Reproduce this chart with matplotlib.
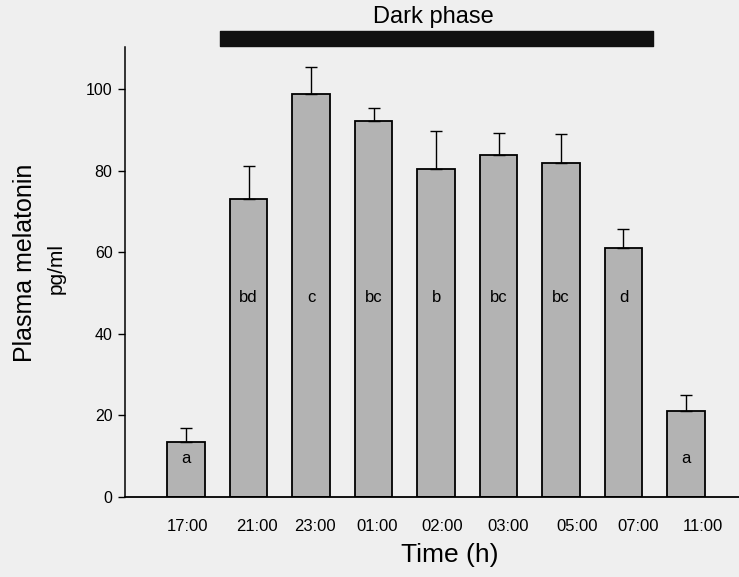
import numpy as np
import matplotlib.pyplot as plt

plt.rcParams['font.family'] = ['Liberation Sans', 'DejaVu Sans']

# Plasma melatonin by time of day
times = ['17:00', '21:00', '23:00', '01:00', '02:00', '03:00', '05:00', '07:00', '11:00']
melatonin = [13.5, 73.0, 98.8, 92.2, 80.4, 83.8, 81.9, 61.0, 21.1]
sem = [3.4, 8.1, 6.6, 3.1, 9.3, 5.4, 7.1, 4.7, 3.9]
groups = ['a', 'bd', 'c', 'bc', 'b', 'bc', 'bc', 'd', 'a']

x = np.arange(len(times))
# tick labels in the scan sit a little right of the bar centres (pixels)
label_shift = np.array([1, 8, 4, 4, 6, 10, 16, 15, 17]) / 62.5

fig = plt.figure(figsize=(7.39, 5.77), dpi=100, facecolor='#efefef')
ax = fig.add_axes([125 / 739, 1 - 497 / 577, 1 - 125 / 739, (497 - 47) / 577])
ax.set_facecolor('#efefef')

ax.bar(x, melatonin, width=0.6, color='#b3b3b3', edgecolor='black', linewidth=1.3, zorder=2)
ax.errorbar(x, melatonin, yerr=[np.zeros(len(x)), sem], fmt='none', ecolor='black',
            elinewidth=1.0, capsize=4.5, capthick=1.0, zorder=3)

# group letters inside the bars
for xi, val, g in zip(x, melatonin, groups):
    ypos = 48.8 if val > 40 else 9.5
    ax.text(xi, ypos, g, ha='center', va='center', fontsize=12, zorder=4)

ax.set_xlim(-0.98, 8.85)
ax.set_ylim(0, 110.3)
ax.set_yticks([0, 20, 40, 60, 80, 100])
ax.set_xticks(x + label_shift)
ax.set_xticklabels(times, fontsize=12)
ax.tick_params(axis='x', length=0, pad=16)
ax.tick_params(axis='y', direction='out', length=5, width=1, labelsize=11.5, pad=4)

for side in ['top', 'right']:
    ax.spines[side].set_visible(False)
ax.spines['left'].set_linewidth(1.1)
ax.spines['bottom'].set_linewidth(1.3)

# dark phase bar above the plot
ax.fill_between([0.54, 7.47], 110.5, 114.3, color='#111111', clip_on=False, zorder=5)
ax.text(3.95, 117.6, 'Dark phase', ha='center', va='center', fontsize=17, clip_on=False)

fig.text(25 / 739, 1 - 263 / 577, 'Plasma melatonin', rotation=90, ha='center', va='center', fontsize=18)
fig.text(56 / 739, 1 - 268 / 577, 'pg/ml', rotation=90, ha='center', va='center', fontsize=15)
fig.text(450 / 739, 1 - 555 / 577, 'Time (h)', ha='center', va='center', fontsize=19)

plt.savefig('out.png', dpi=100, facecolor=fig.get_facecolor())
